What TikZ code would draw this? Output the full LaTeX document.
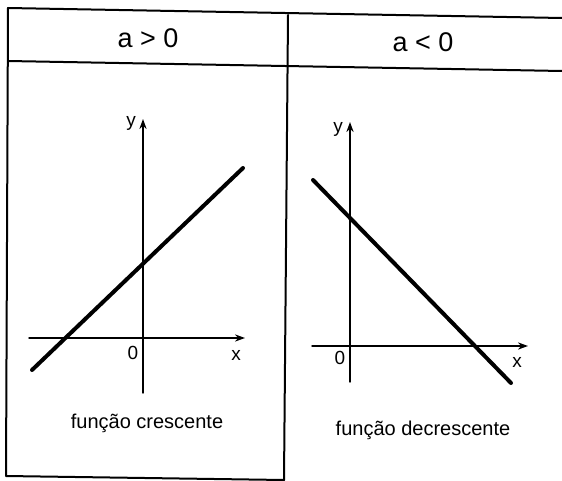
\documentclass[tikz,border=0pt]{standalone}
\usepackage{fontspec}
\setmainfont{Liberation Sans}
\usetikzlibrary{arrows.meta}

\tikzset{
 tabela/.style={line width=1pt},
 eixo/.style={line width=.7pt,-{Stealth[length=5pt,width=3.6pt]}},
 reta/.style={line width=2pt,line cap=round},
 rotulo/.style={font=\fontsize{9.5}{11}\selectfont,inner sep=1pt},
 titulo/.style={font=\fontsize{13.5}{16}\selectfont,inner sep=1pt},
 legenda/.style={font=\fontsize{10}{12}\selectfont,inner sep=1pt}
}

\begin{document}
\begin{tikzpicture}[x=.5pt,y=-.5pt,line cap=round,line join=round]
% coordenadas em pixels da figura (562 x 481), eixo y para baixo
\useasboundingbox (0,0) rectangle (562,481);
% tabela
\draw[tabela] (562,18)--(8,8)--(6,476)--(284,480);
\draw[tabela] (8,61)--(562,71);
\draw[tabela] (288,15)--(284,480);
\node[titulo] (tpos) at (148,38) {a > 0};
\node[titulo] (tneg) at (423,42) {a < 0};
% a > 0
\coordinate (xa1) at (29,338);
\coordinate (xa2) at (245,338);
\coordinate (ya1) at (143,393);
\coordinate (ya2) at (143,119);
\draw[eixo] (xa1)--(xa2);
\draw[eixo] (ya1)--(ya2);
\draw[reta] (32,370)--(243,168);
\node[rotulo] (oa) at (133,353) {0};
\node[rotulo] (xla) at (236,355) {x};
\node[rotulo] (yla) at (131,123) {y};
\node[legenda] (cres) at (147,423) {função crescente};
% a < 0
\coordinate (xb1) at (312,346);
\coordinate (xb2) at (528,346);
\coordinate (yb1) at (350,382);
\coordinate (yb2) at (350,122);
\draw[eixo] (xb1)--(xb2);
\draw[eixo] (yb1)--(yb2);
\draw[reta] (313,180)--(511,383);
\node[rotulo] (ob) at (340,358) {0};
\node[rotulo] (xlb) at (517,362) {x};
\node[rotulo] (ylb) at (338,129) {y};
\node[legenda] (decres) at (423,430) {função decrescente};
\end{tikzpicture}
\end{document}
